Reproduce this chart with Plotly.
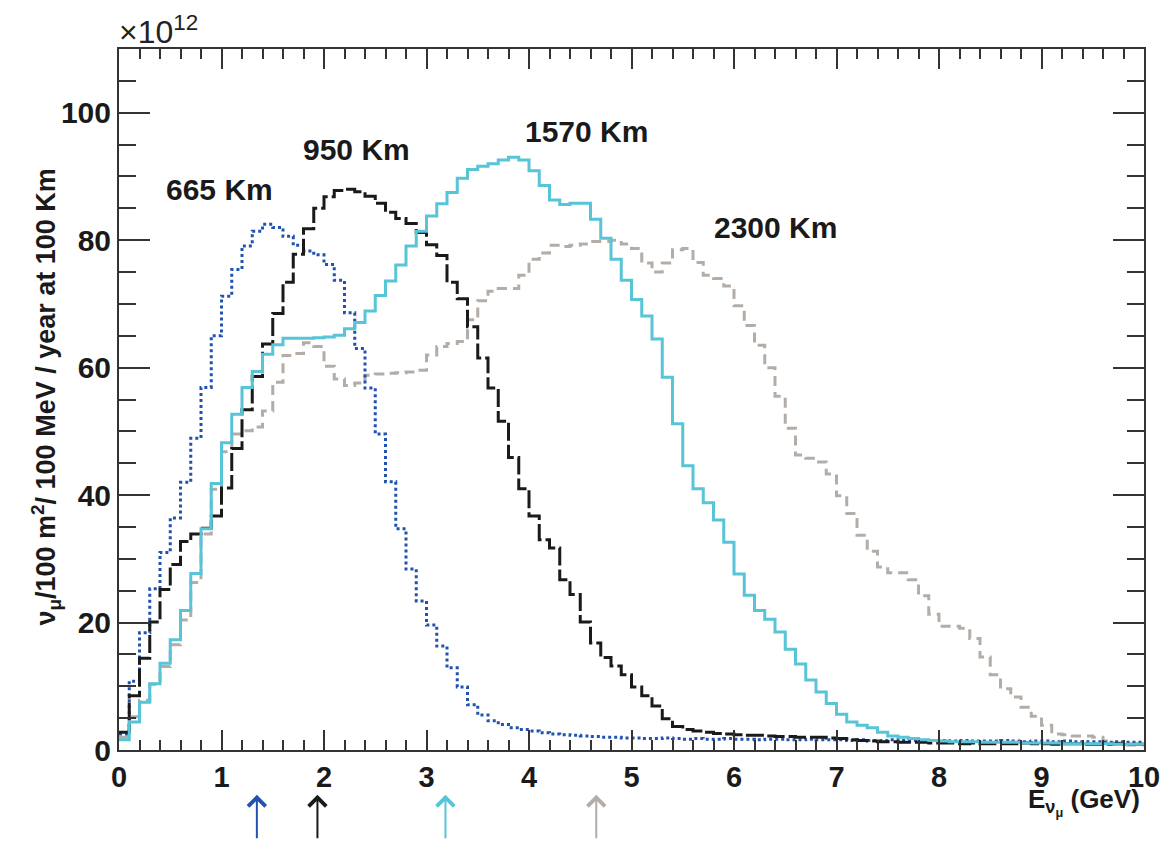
import numpy as np
import plotly.graph_objects as go

# bin edges in GeV (100 bins of 0.1 GeV)
bin_edges = np.round(np.linspace(0.0, 10.0, 101), 2)

# fluxes in units of 1e12  (nu_mu / 100 m^2 / 100 MeV / year at 100 Km)
flux_665 = [2.5, 10.8, 18.4, 25.3, 31.0, 36.4, 42.0, 48.9, 56.9, 65.0,
            71.2, 75.4, 79.1, 81.4, 82.5, 82.0, 80.6, 79.2, 78.3, 77.7,
            76.2, 73.7, 68.6, 63.0, 56.8, 49.6, 42.1, 34.7, 28.4, 23.4,
            19.6, 16.3, 12.9, 9.9, 7.1, 5.5, 4.6, 4.0, 3.5, 3.2,
            3.0, 2.7, 2.5, 2.4, 2.3, 2.2, 2.1, 2.0, 2.0, 1.9,
            1.9, 1.8, 1.8, 1.9, 1.8, 1.7, 1.8, 1.7, 1.7, 1.8,
            1.7, 1.7, 1.6, 1.7, 1.7, 1.6, 1.6, 1.7, 1.6, 1.6,
            1.6, 1.5, 1.6, 1.5, 1.5, 1.6, 1.5, 1.5, 1.4, 1.5,
            1.5, 1.4, 1.5, 1.4, 1.4, 1.4, 1.5, 1.4, 1.3, 1.4,
            1.4, 1.3, 1.4, 1.3, 1.3, 1.3, 1.2, 1.3, 1.2, 1.2]

flux_950 = [2.8, 8.5, 14.4, 20.1, 25.2, 29.1, 32.7, 33.9, 34.8, 36.7,
            41.1, 47.3, 53.4, 58.6, 63.7, 68.5, 73.4, 77.8, 81.8, 85.0,
            86.8, 87.8, 88.0, 87.6, 86.9, 85.8, 84.4, 83.4, 82.6, 81.2,
            79.3, 77.6, 73.4, 70.8, 66.4, 61.5, 56.8, 51.6, 45.9, 41.0,
            36.7, 33.0, 31.7, 26.7, 24.4, 20.1, 16.8, 14.5, 13.2, 11.8,
            9.9, 8.5, 6.9, 4.9, 3.7, 3.2, 3.0, 2.8, 2.6, 2.5,
            2.4, 2.3, 2.3, 2.2, 2.1, 2.1, 2.0, 2.0, 2.0, 1.9,
            1.8, 1.6, 1.5, 1.4, 1.3, 1.3, 1.2, 1.2, 1.2, 1.1,
            1.1, 1.1, 1.0, 1.1, 1.0, 1.0, 1.0, 1.0, 1.1, 1.0,
            1.0, 0.9, 1.0, 1.0, 0.9, 0.9, 0.9, 1.0, 0.9, 0.9]

flux_1570 = [1.6, 4.4, 7.5, 10.4, 13.6, 17.3, 21.9, 27.7, 34.7, 41.8,
             48.2, 52.7, 56.9, 59.4, 62.1, 63.6, 64.6, 64.6, 64.6, 64.7,
             64.8, 65.1, 66.1, 67.1, 68.9, 71.3, 73.6, 76.1, 79.1, 81.4,
             83.8, 85.7, 87.5, 89.7, 91.1, 91.6, 92.0, 92.6, 93.0, 92.6,
             90.9, 88.6, 86.3, 85.6, 85.8, 85.8, 83.3, 80.3, 77.0, 73.7,
             70.7, 68.1, 64.5, 58.5, 51.2, 44.6, 41.0, 38.8, 36.1, 32.6,
             27.6, 24.3, 21.9, 20.5, 18.5, 15.8, 13.5, 11.0, 9.1, 7.3,
             5.6, 4.4, 3.9, 3.5, 2.8, 2.2, 2.0, 1.8, 1.6, 1.5,
             1.4, 1.3, 1.3, 1.3, 1.2, 1.2, 1.2, 1.2, 1.1, 1.1,
             1.1, 1.1, 1.0, 1.0, 1.0, 1.0, 1.0, 0.9, 0.9, 0.9]

flux_2300 = [2.0, 5.2, 7.8, 10.3, 13.1, 16.5, 20.4, 26.3, 33.9, 40.9,
             46.8, 49.6, 50.1, 50.7, 53.2, 57.7, 61.9, 62.2, 63.9, 63.3,
             60.2, 58.2, 57.2, 57.6, 58.8, 59.0, 59.1, 59.2, 59.3, 59.6,
             62.0, 63.3, 63.8, 64.1, 67.5, 70.5, 72.0, 72.4, 72.4, 74.5,
             77.0, 78.0, 79.2, 79.0, 79.2, 79.4, 79.8, 79.8, 80.0, 79.4,
             78.7, 76.4, 75.0, 76.4, 78.5, 78.7, 76.5, 74.5, 74.0, 72.8,
             69.7, 66.6, 63.5, 60.0, 55.5, 50.5, 46.3, 45.8, 45.2, 43.3,
             39.9, 37.1, 33.7, 31.2, 28.7, 27.8, 27.8, 26.7, 24.2, 21.3,
             19.4, 19.4, 19.1, 17.5, 14.6, 11.8, 9.6, 8.3, 6.7, 5.3,
             3.9, 2.5, 2.4, 2.2, 2.2, 2.0, 1.4, 1.1, 0.8, 0.8]

baselines = ["665 Km", "950 Km", "1570 Km", "2300 Km"]
label_x = [0.98, 2.32, 4.56, 6.4]
label_y = [88.0, 94.3, 97.0, 82.0]
peak_energy = [1.345, 1.936, 3.185, 4.656]

colors = ["#2152AE", "#1A1A1A", "#58C4D8", "#B4ADA7"]
dashes = ["dot", "18px,4px", "solid", "10px,6px"]
series = [flux_665, flux_950, flux_1570, flux_2300]

FONT = "Liberation Sans, Arial, Helvetica, sans-serif"

fig = go.Figure()
draw_order = [3, 0, 1, 2]
for i in draw_order:
    y = list(series[i]) + [series[i][-1]]
    fig.add_trace(go.Scatter(
        x=bin_edges, y=y, mode="lines", line_shape="hv",
        line=dict(color=colors[i], width=3, dash=dashes[i]),
        name=baselines[i], showlegend=False, hoverinfo="skip"))

for i in range(4):
    fig.add_annotation(x=label_x[i], y=label_y[i], text=baselines[i],
                       showarrow=False, xref="x", yref="y",
                       font=dict(family=FONT, size=30, color="#1a1a1a", weight="bold"))
    fig.add_annotation(x=peak_energy[i], y=-0.064, xref="x", yref="paper",
                       text="", showarrow=True, ax=0, ay=45,
                       arrowhead=4, arrowsize=1.7, arrowwidth=2,
                       arrowcolor=colors[i])

fig.add_annotation(x=-0.002, y=1.0, xref="paper", yref="paper", xanchor="left",
                   yanchor="bottom", showarrow=False, yshift=-3,
                   text="×10<sup>12</sup>",
                   font=dict(family=FONT, size=32, color="#222"))
fig.add_annotation(x=0.9985, y=-0.0735, xref="paper", yref="paper",
                   xanchor="right", yanchor="middle", showarrow=False,
                   text="E<sub>ν<sub>μ</sub></sub> (GeV)",
                   font=dict(family=FONT, size=26, color="#1a1a1a", weight="bold"))
fig.add_annotation(x=-0.0716, y=0.5036, xref="paper", yref="paper",
                   xanchor="center", yanchor="middle", showarrow=False,
                   textangle=-90,
                   text="ν<sub>μ</sub>/100 m<sup>2</sup>/ 100 MeV / year at 100 Km",
                   font=dict(family=FONT, size=27, color="#1a1a1a", weight="bold"))

fig.update_xaxes(range=[0, 10], dtick=1, tick0=0, ticks="inside", ticklen=20,
                 tickwidth=2, tickcolor="#333", showline=True, linecolor="#333",
                 linewidth=2, mirror="allticks", showgrid=False, zeroline=False,
                 minor=dict(dtick=0.2, ticks="inside", ticklen=10, tickwidth=2,
                            tickcolor="#333", showgrid=False),
                 tickfont=dict(family=FONT, size=29, color="#1a1a1a", weight="bold"))
fig.update_yaxes(range=[0, 110], dtick=20, tick0=0, ticks="inside", ticklen=31,
                 tickwidth=2, tickcolor="#333", showline=True, linecolor="#333",
                 linewidth=2, mirror="allticks", showgrid=False, zeroline=False,
                 minor=dict(dtick=5, ticks="inside", ticklen=17, tickwidth=2,
                            tickcolor="#333", showgrid=False),
                 tickfont=dict(family=FONT, size=30, color="#1a1a1a", weight="bold"))

fig.update_layout(width=1172, height=843, plot_bgcolor="white",
                  paper_bgcolor="white",
                  margin=dict(l=119, r=20, t=49, b=93))

fig.write_html("out.html",
               config={"displayModeBar": False},
               post_script="document.body.style.margin='0px';"
                           "document.body.style.overflow='hidden';")
